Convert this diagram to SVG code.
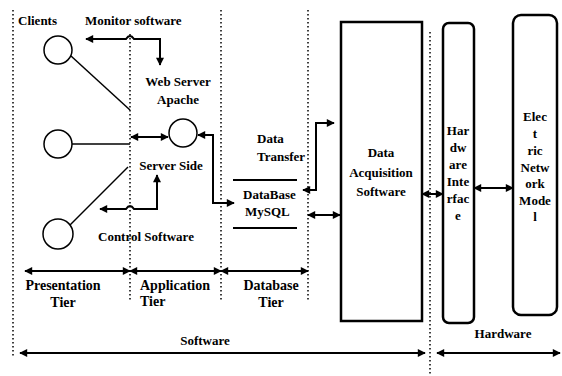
<svg xmlns="http://www.w3.org/2000/svg" width="562" height="376" viewBox="0 0 562 376">
<style>
.t{font-family:"Liberation Serif","Times New Roman",serif;font-weight:bold;font-size:13px;fill:#000}
.tc{text-anchor:middle}
.tier{font-size:14px}
.dot{stroke:#000;stroke-width:1.5;stroke-dasharray:1.5 2.5;fill:none}
.c{fill:#fff;stroke:#000;stroke-width:1.5}
.ln{stroke:#000;stroke-width:1.5;fill:none}
.ar{stroke:#000;stroke-width:2;fill:none;marker-start:url(#ah);marker-end:url(#ah)}
.box{fill:#fff;stroke:#000;stroke-width:2.5}
</style>
<defs>
<marker id="ah" viewBox="0 0 10 10" refX="9" refY="5" markerWidth="10" markerHeight="8" markerUnits="userSpaceOnUse" orient="auto-start-reverse"><path d="M0,0 L10,5 L0,10 z" fill="#000"/></marker>
</defs>
<rect width="562" height="376" fill="#fff"/>
<g id="tier-dividers">
<line class="dot" x1="13" y1="10" x2="13" y2="357"/>
<line class="dot" x1="130" y1="34" x2="130" y2="300"/>
<line class="dot" x1="221" y1="10" x2="221" y2="300"/>
<line class="dot" x1="308" y1="10" x2="308" y2="300"/>
<line class="dot" x1="430" y1="32" x2="430" y2="376"/>
</g>
<g id="clients">
<text class="t" x="18" y="25">Clients</text>
<circle class="c" cx="58" cy="50" r="14"/>
<circle class="c" cx="58" cy="144" r="14"/>
<circle class="c" cx="58" cy="234" r="15"/>
</g>
<g id="web-server">
<text class="t tc" x="178" y="86">Web Server</text>
<text class="t tc" x="178" y="104">Apache</text>
<circle class="c" cx="183" cy="133" r="14"/>
<text class="t tc" x="171" y="170">Server Side</text>
</g>
<g id="monitor-label"><text class="t" x="85" y="25">Monitor software</text></g>
<g id="control-label"><text class="t" x="98" y="241">Control Software</text></g>
<g id="database">
<text class="t" x="257" y="143">Data</text>
<text class="t" x="257" y="161">Transfer</text>
<line class="ln" x1="233" y1="180" x2="297" y2="180" style="stroke-width:2"/>
<text class="t" x="243" y="199">DataBase</text>
<text class="t" x="245" y="216">MySQL</text>
<line class="ln" x1="233" y1="228" x2="297" y2="228" style="stroke-width:2"/>
</g>
<g id="data-acquisition">
<rect class="box" x="341" y="22" width="81" height="299"/>
<text class="t tc" x="381" y="157">Data</text>
<text class="t tc" x="381" y="177">Acquisition</text>
<text class="t tc" x="381" y="196">Software</text>
</g>
<g id="hardware-interface">
<rect class="box" x="443" y="23" width="31" height="300" rx="6"/>
<text class="t tc" x="458" y="135">Har</text>
<text class="t tc" x="458" y="152">dw</text>
<text class="t tc" x="458" y="169">are</text>
<text class="t tc" x="458" y="186">Inte</text>
<text class="t tc" x="458" y="203">rfac</text>
<text class="t tc" x="458" y="220">e</text>
</g>
<g id="electric-network-model">
<rect class="box" x="513" y="15" width="44" height="300" rx="8"/>
<text class="t tc" x="535" y="121">Elec</text>
<text class="t tc" x="535" y="138">t</text>
<text class="t tc" x="535" y="155">ric</text>
<text class="t tc" x="535" y="172">Netw</text>
<text class="t tc" x="535" y="188">ork</text>
<text class="t tc" x="535" y="205">Mode</text>
<text class="t tc" x="535" y="221">l</text>
</g>
<g id="tier-labels">
<text class="t tc tier" x="63" y="290">Presentation</text>
<text class="t tc tier" x="63" y="307">Tier</text>
<text class="t tier" x="140" y="290">Application</text>
<text class="t tier" x="140" y="306">Tier</text>
<text class="t tc tier" x="271" y="290">Database</text>
<text class="t tc tier" x="271" y="307">Tier</text>
<text class="t tc" x="205" y="345">Software</text>
<text class="t tc" x="503" y="338">Hardware</text>
</g>
<g id="connectors">
<line class="ln" x1="71" y1="56" x2="130" y2="110"/>
<line class="ln" x1="72" y1="144" x2="130" y2="144"/>
<line class="ln" x1="70" y1="225" x2="128" y2="167"/>
<path class="ar" d="M160,65 V39 H134 Q130,33 126,39 H86"/>
<path class="ar" d="M157,175 V209 H134 Q130,203 126,209 H100"/>
<path class="ar" d="M131,137 H168"/>
<path class="ar" d="M198,135 H213 V203 H234"/>
<path class="ar" d="M303,190 H316 V123 H334"/>
<path class="ar" d="M308,215 H340"/>
<path class="ar" d="M422,194 H443"/>
<path class="ar" d="M474,188 H513"/>
<path class="ar" d="M25,271 H130"/>
<path class="ar" d="M130,271 H221"/>
<path class="ar" d="M221,271 H308"/>
<path class="ar" d="M20,353 H425"/>
<path class="ar" d="M437,353 H560"/>
</g>
</svg>
